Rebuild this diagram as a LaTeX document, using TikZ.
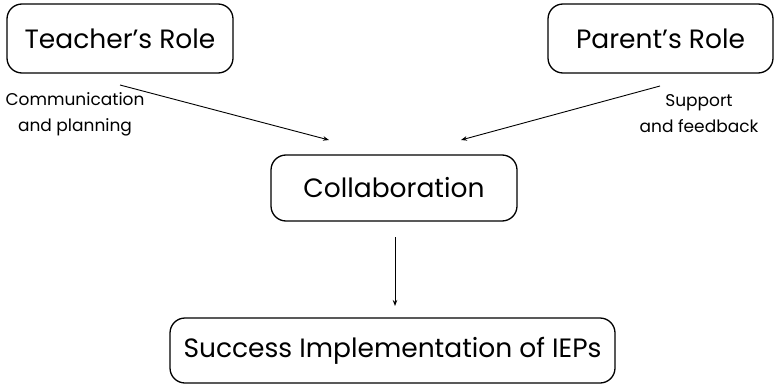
\documentclass[tikz,border=0pt]{standalone}
\usepackage{fontspec}
\setmainfont{Poppins}
\usetikzlibrary{arrows.meta}
\begin{document}
\begin{tikzpicture}[x=1pt,y=-1pt,
  rolebox/.style={draw, line width=1.3pt, rounded corners=15pt, inner sep=0pt,
    font=\fontsize{26.5}{30}\selectfont},
  note/.style={align=center, inner sep=0pt, font=\fontsize{17}{26}\selectfont},
  link/.style={line width=0.9pt, -{Stealth[length=6pt,width=4.5pt]}}]
\useasboundingbox (0,0) rectangle (775,385);
\node[rolebox, minimum width=226pt, minimum height=69pt] (teacher) at (120,38.5) {Teacher’s Role};
\node[rolebox, minimum width=225pt, minimum height=69pt] (parent) at (660.5,38.5) {Parent’s Role};
\node[rolebox, minimum width=246pt, minimum height=66pt] (collab) at (394,188) {Collaboration};
\node[rolebox, minimum width=445pt, minimum height=65pt] (success) at (392.5,350.5) {Success Implementation of IEPs};
\node[note] (commlbl) at (75,114) {Communication\\and planning};
\node[note] (suplbl) at (699,114) {Support\\and feedback};
\coordinate (t-out) at (120,85);
\coordinate (c-inl) at (329,140);
\coordinate (p-out) at (660,86);
\coordinate (c-inr) at (461,140);
\coordinate (c-out) at (395,237);
\coordinate (s-in) at (395,306);
\draw[link] (t-out) -- (c-inl);
\draw[link] (p-out) -- (c-inr);
\draw[link] (c-out) -- (s-in);
\end{tikzpicture}
\end{document}
